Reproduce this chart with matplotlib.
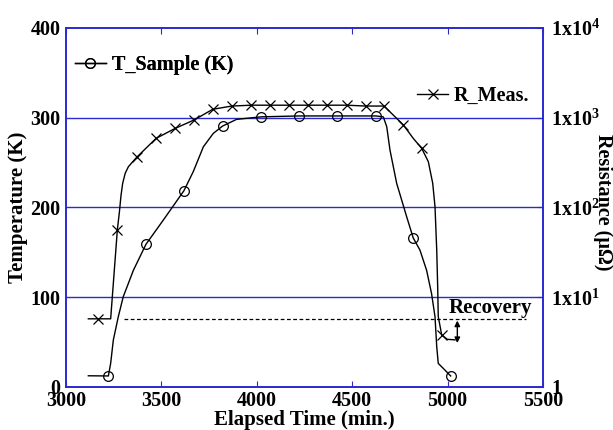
import matplotlib
matplotlib.use("Agg")
import matplotlib.pyplot as plt
from matplotlib.lines import Line2D

plt.rcParams['font.family'] = ['Liberation Serif', 'DejaVu Serif']
plt.rcParams['font.weight'] = 'bold'
plt.rcParams['mathtext.fontset'] = 'custom'
plt.rcParams['mathtext.rm'] = 'Liberation Serif:bold'
plt.rcParams['mathtext.bf'] = 'Liberation Serif:bold'
plt.rcParams['mathtext.default'] = 'bf'

# ---- data ----
# Temperature curve (line) and markers, in K
t_line_x = [3117, 3222, 3234, 3248, 3274, 3300, 3353, 3419, 3510, 3618, 3667, 3720, 3772,
            3821, 3894, 4022, 4221, 4420, 4625, 4663, 4681, 4698, 4733, 4785, 4820, 4855,
            4890, 4916, 4934, 4943, 4951, 4977, 5016]
t_line_y = [12.5, 12.3, 26.4, 52.4, 78.3, 100.6, 130, 159, 186, 218.7, 240, 267.7, 282.6,
            290.8, 298.2, 301, 302, 302, 302, 301, 290, 264, 227, 190, 166, 152.6,
            130, 104, 78.3, 45, 26.3, 20.8, 12.3]
t_mark_x = [3222, 3419, 3618, 3821, 4022, 4221, 4420, 4625, 4820, 5016]
t_mark_y = [12.3, 159, 218.7, 290.8, 301, 302, 302, 302, 166, 12.3]

# Resistance curve (line) and markers, in micro-ohm
r_line_x = [3117, 3234, 3269, 3280, 3288, 3297, 3310, 3327, 3370, 3472, 3571, 3671, 3769,
            3868, 3970, 4069, 4168, 4268, 4368, 4471, 4572, 4667, 4715, 4768, 4820, 4864,
            4899, 4922, 4934, 4943, 4948, 4951, 4969, 4998, 5039]
r_line_y = [5.75, 5.75, 56.2, 90, 135, 186, 240, 285, 362, 589, 759, 944, 1242,
            1349, 1380, 1380, 1380, 1380, 1380, 1380, 1350, 1350, 1072, 832, 589, 457,
            324, 186, 102, 33.7, 13.1, 6.1, 3.8, 3.4, 3.35]
r_mark_x = [3166, 3269, 3370, 3472, 3571, 3671, 3769, 3868, 3970, 4069, 4168, 4268, 4368,
            4471, 4572, 4667, 4768, 4864, 4969]
r_mark_y = [5.75, 56.2, 362, 589, 759, 944, 1242, 1349, 1380, 1380, 1380, 1380, 1380,
            1380, 1350, 1350, 832, 457, 3.8]

x_ticks = [3000, 3500, 4000, 4500, 5000, 5500]
y_ticks = [0, 100, 200, 300, 400]
r_ticks = [1, 10, 100, 1000, 10000]
r_tick_labels = ['1', '1x10$^{1}$', '1x10$^{2}$', '1x10$^{3}$', '1x10$^{4}$']

recovery_level = 75.8
recovery_x = [3304, 5411]

blue = '#2a2ad0'

fig = plt.figure(figsize=(6.13, 4.30), dpi=100)
ax = fig.add_axes([0.1077, 0.100, 0.7781, 0.8349])
ax2 = ax.twinx()

ax.set_xlim(3000, 5500)
ax.set_ylim(0, 400)
ax2.set_yscale('log')
ax2.set_ylim(1, 10000)

for y in y_ticks[1:-1]:
    ax.axhline(y, color=blue, lw=1.0, zorder=1)

ax.plot(t_line_x, t_line_y, color='black', lw=1.0, zorder=3)
ax.plot(t_mark_x, t_mark_y, ls='none', marker='o', ms=7, mfc='none', mec='black', mew=0.9, zorder=4)
ax2.plot(r_line_x, r_line_y, color='black', lw=1.0, zorder=3)
ax2.plot(r_mark_x, r_mark_y, ls='none', marker='x', ms=7, mec='black', mew=0.9, zorder=4)

ax.hlines(recovery_level, recovery_x[0], recovery_x[1], colors='black', linestyles=(0, (3, 2)), lw=0.9)
ax.text(5222, 88, 'Recovery', ha='center', va='center', fontsize=15, fontweight='bold')
ax.annotate('', xy=(5051, 49), xytext=(5051, 74),
            arrowprops=dict(arrowstyle='<|-|>', color='black', lw=1.0,
                            mutation_scale=8, shrinkA=0, shrinkB=0))

ax.set_xticks(x_ticks)
ax.set_yticks(y_ticks)
ax2.set_yticks(r_ticks)
ax2.set_yticklabels(r_tick_labels)
ax2.minorticks_off()

for a in (ax, ax2):
    for s in a.spines.values():
        s.set_color(blue)
        s.set_linewidth(1.2)
ax.tick_params(axis='both', direction='in', length=4, color=blue, labelsize=14.5, top=True, pad=3)
ax.tick_params(axis='y', length=0, pad=4)
ax2.tick_params(axis='y', direction='in', length=4, color=blue, labelsize=14.5, pad=6)
for lab in ax.get_xticklabels() + ax.get_yticklabels() + ax2.get_yticklabels():
    lab.set_fontweight('bold')

ax.set_xlabel('Elapsed Time (min.)', fontsize=15, fontweight='bold', labelpad=-1)
ax.set_ylabel('Temperature (K)', fontsize=15, fontweight='bold', labelpad=2)
ax2.set_ylabel('Resistance (\u03bc\u03a9)', fontsize=14.5, fontweight='bold', rotation=-90)
ax2.yaxis.set_label_coords(1.126, 0.515)
ax2.yaxis.label.set_va('center')

h1 = Line2D([], [], color='black', lw=1.0, marker='o', ms=7, mfc='none', mew=0.9)
h2 = Line2D([], [], color='black', lw=1.0, marker='x', ms=7, mew=0.9)
leg1 = ax.legend([h1], ['T_Sample (K)'], loc='upper left', bbox_to_anchor=(-0.01, 0.965),
                 frameon=False, fontsize=14.5, handlelength=1.5, handletextpad=0.3,
                 borderaxespad=0.3)
ax.add_artist(leg1)
leg2 = ax2.legend([h2], ['R_Meas.'], loc='upper left', bbox_to_anchor=(0.72, 0.86),
                  frameon=False, fontsize=14.5, handlelength=1.5, handletextpad=0.3,
                  borderaxespad=0.0)
for leg in (leg1, leg2):
    for t in leg.get_texts():
        t.set_fontweight('bold')

fig.savefig('out.png', dpi=100)
